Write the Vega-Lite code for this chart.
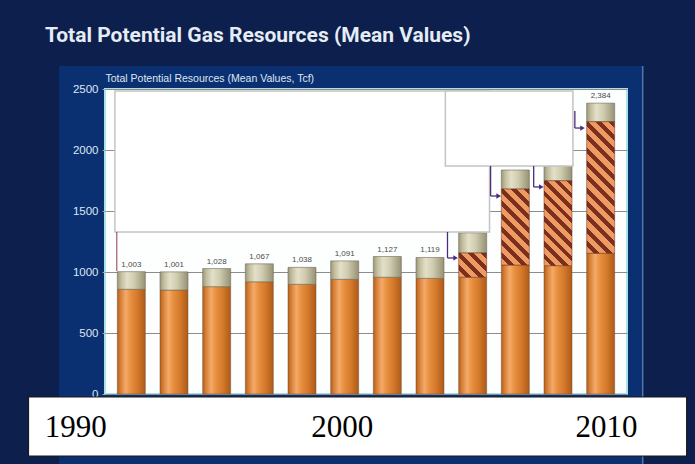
{
  "$schema": "https://vega.github.io/schema/vega-lite/v6.json",
  "autosize": {"type": "none"},
  "width": 522,
  "height": 305,
  "padding": {"left": 105, "top": 89, "right": 68, "bottom": 70},
  "background": "#0a3072",
  "config": {
    "view": {"fill": "#fdfefe", "stroke": "#a9e3e3", "strokeWidth": 2},
    "font": "Liberation Sans"
  },
  "title": {
    "text": "Total Potential Gas Resources (Mean Values)",
    "anchor": "start",
    "frame": "group",
    "dx": -60,
    "offset": -63,
    "baseline": "alphabetic",
    "font": "Roboto",
    "fontSize": 21,
    "fontWeight": "bold",
    "color": "#e6ecf4"
  },
  "datasets": {
    "segments": [
      {"year": 1990, "type": "Traditional", "value": 858}, {"year": 1990, "type": "Shale", "value": 0}, {"year": 1990, "type": "Coalbed", "value": 145},
      {"year": 1992, "type": "Traditional", "value": 852}, {"year": 1992, "type": "Shale", "value": 0}, {"year": 1992, "type": "Coalbed", "value": 149},
      {"year": 1994, "type": "Traditional", "value": 880}, {"year": 1994, "type": "Shale", "value": 0}, {"year": 1994, "type": "Coalbed", "value": 148},
      {"year": 1996, "type": "Traditional", "value": 920}, {"year": 1996, "type": "Shale", "value": 0}, {"year": 1996, "type": "Coalbed", "value": 147},
      {"year": 1998, "type": "Traditional", "value": 899}, {"year": 1998, "type": "Shale", "value": 0}, {"year": 1998, "type": "Coalbed", "value": 139},
      {"year": 2000, "type": "Traditional", "value": 940}, {"year": 2000, "type": "Shale", "value": 0}, {"year": 2000, "type": "Coalbed", "value": 151},
      {"year": 2002, "type": "Traditional", "value": 957}, {"year": 2002, "type": "Shale", "value": 0}, {"year": 2002, "type": "Coalbed", "value": 170},
      {"year": 2004, "type": "Traditional", "value": 948}, {"year": 2004, "type": "Shale", "value": 0}, {"year": 2004, "type": "Coalbed", "value": 171},
      {"year": 2006, "type": "Traditional", "value": 957}, {"year": 2006, "type": "Shale", "value": 199}, {"year": 2006, "type": "Coalbed", "value": 165},
      {"year": 2008, "type": "Traditional", "value": 1057}, {"year": 2008, "type": "Shale", "value": 623}, {"year": 2008, "type": "Coalbed", "value": 156},
      {"year": 2010, "type": "Traditional", "value": 1052}, {"year": 2010, "type": "Shale", "value": 696}, {"year": 2010, "type": "Coalbed", "value": 150},
      {"year": 2012, "type": "Traditional", "value": 1153}, {"year": 2012, "type": "Shale", "value": 1079}, {"year": 2012, "type": "Coalbed", "value": 152}
    ],
    "frame": [
      {"from": 1983, "to": 2017, "low": 2689, "high": 3229},
      {"from": 1983, "to": 1986.61, "low": -660, "high": 2689},
      {"from": 2013.97, "to": 2017, "low": -660, "high": 2689}
    ],
    "edge": [{"x0": 2013.97, "ytop": 2689, "ybot": -660}],
    "covers": [
      {"from": 1989.23, "to": 2006.79, "low": 1328, "high": 2484},
      {"from": 2004.72, "to": 2010.7, "low": 1869, "high": 2484}
    ],
    "arrows": [
      {"x0": 2004.82, "xe": 2005.2, "ytop": 1328, "ybot": 1115},
      {"x0": 2006.84, "xe": 2007.22, "ytop": 1869, "ybot": 1623},
      {"x0": 2008.86, "xe": 2009.22, "ytop": 1869, "ybot": 1697},
      {"x0": 2010.79, "xe": 2011.15, "ytop": 2320, "ybot": 2180}
    ],
    "bracket": [{"x0": 1989.32, "ytop": 1328, "ybot": 1008}],
    "labelbox": [{"from": 1985.18, "to": 2016.03, "low": -508, "high": -24.6}]
  },
  "layer": [
    {
      "data": {"name": "frame"},
      "mark": {"type": "rect", "color": "#0c1f4d", "clip": false},
      "encoding": {
        "x": {"field": "from", "type": "quantitative", "scale": {"domain": [1989, 2013], "nice": false, "zero": false},
              "axis": {"values": [1990, 2000, 2010], "format": "d", "title": null, "domain": false, "ticks": false, "grid": false, "zindex": 1,
                       "labelFont": "Liberation Serif", "labelFontSize": 31, "labelColor": "#000000", "labelBaseline": "alphabetic",
                       "labelPadding": 42, "labelFlush": false, "labelOverlap": false,
                       "labelOffset": {"condition": [{"test": "datum.value == 1990", "value": -56}, {"test": "datum.value == 2010", "value": 48}], "value": -3}}},
        "x2": {"field": "to"},
        "y": {"field": "low", "type": "quantitative", "scale": {"domain": [0, 2500], "nice": false},
              "axis": {"values": [0, 500, 1000, 1500, 2000, 2500], "format": "d", "title": "Total Potential Resources (Mean Values, Tcf)",
                       "titleAngle": 0, "titleAlign": "left", "titleBaseline": "alphabetic", "titleX": 0, "titleY": -8,
                       "titleFont": "Liberation Sans", "titleFontSize": 10.5, "titleFontWeight": "normal", "titleColor": "#dfe6f0",
                       "labelFont": "Liberation Sans", "labelFontSize": 11.5, "labelColor": "#dfe6f0", "labelPadding": 4,
                       "domain": false, "tickSize": 3, "tickColor": "#9aa4b4", "gridColor": "#8c8c8c", "gridWidth": 1}},
        "y2": {"field": "high"}
      }
    },
    {
      "data": {"name": "edge"},
      "mark": {"type": "rule", "color": "#6f9ad0", "strokeWidth": 1.5, "opacity": 0.7, "clip": false},
      "encoding": {
        "x": {"field": "x0", "type": "quantitative", "scale": {"domain": [1989, 2013], "nice": false, "zero": false}},
        "y": {"field": "ytop", "type": "quantitative", "scale": {"domain": [0, 2500], "nice": false}},
        "y2": {"field": "ybot"}
      }
    },
    {
      "data": {"name": "segments"},
      "transform": [
        {"stack": "value", "groupby": ["year"], "sort": [{"field": "type", "order": "descending"}], "as": ["v0", "v1"]},
        {"filter": "datum.type == 'Traditional'"}
      ],
      "mark": {"type": "bar", "size": 28, "clip": false, "stroke": "#7a5030", "strokeWidth": 0.5,
               "fill": {"gradient": "linear", "x1": 0, "y1": 0, "x2": 1, "y2": 0,
                        "stops": [{"offset": 0, "color": "#b35e1c"}, {"offset": 0.12, "color": "#d88036"}, {"offset": 0.3, "color": "#f3aa6a"},
                                  {"offset": 0.48, "color": "#e78f3e"}, {"offset": 0.72, "color": "#d3792b"}, {"offset": 1, "color": "#ad5a19"}]}},
      "encoding": {
        "x": {"field": "year", "type": "quantitative", "scale": {"domain": [1989, 2013], "nice": false, "zero": false}},
        "y": {"field": "v1", "type": "quantitative", "scale": {"domain": [0, 2500], "nice": false}},
        "y2": {"field": "v0"}
      }
    },
    {
      "data": {"name": "segments"},
      "transform": [
        {"stack": "value", "groupby": ["year"], "sort": [{"field": "type", "order": "descending"}], "as": ["v0", "v1"]},
        {"filter": "datum.type == 'Coalbed'"}
      ],
      "mark": {"type": "bar", "size": 28, "clip": false, "stroke": "#6e6a58", "strokeWidth": 0.6,
               "fill": {"gradient": "linear", "x1": 0, "y1": 0, "x2": 1, "y2": 0,
                        "stops": [{"offset": 0, "color": "#9c987c"}, {"offset": 0.15, "color": "#c4c0a0"}, {"offset": 0.35, "color": "#e3e0c8"},
                                  {"offset": 0.6, "color": "#d0ccb0"}, {"offset": 1, "color": "#969276"}]}},
      "encoding": {
        "x": {"field": "year", "type": "quantitative", "scale": {"domain": [1989, 2013], "nice": false, "zero": false}},
        "y": {"field": "v1", "type": "quantitative", "scale": {"domain": [0, 2500], "nice": false}},
        "y2": {"field": "v0"}
      }
    },
    {
      "data": {"name": "segments"},
      "transform": [
        {"stack": "value", "groupby": ["year"], "sort": [{"field": "type", "order": "descending"}], "as": ["v0", "v1"]},
        {"filter": "datum.type == 'Shale' && datum.year == 2006"}
      ],
      "mark": {"type": "bar", "size": 28, "clip": false, "stroke": "#6a2a18", "strokeWidth": 0.5,
               "fill": {"gradient": "linear", "x1": 0, "y1": 1, "x2": 1.0656, "y2": 0.075,
                        "stops": [{"offset": 0, "color": "#ee9a62"}, {"offset": 0.1375, "color": "#ee9a62"}, {"offset": 0.1375, "color": "#7a301c"}, {"offset": 0.25, "color": "#7a301c"},
                                  {"offset": 0.25, "color": "#ee9a62"}, {"offset": 0.3875, "color": "#ee9a62"}, {"offset": 0.3875, "color": "#7a301c"}, {"offset": 0.5, "color": "#7a301c"},
                                  {"offset": 0.5, "color": "#ee9a62"}, {"offset": 0.6375, "color": "#ee9a62"}, {"offset": 0.6375, "color": "#7a301c"}, {"offset": 0.75, "color": "#7a301c"},
                                  {"offset": 0.75, "color": "#ee9a62"}, {"offset": 0.8875, "color": "#ee9a62"}, {"offset": 0.8875, "color": "#7a301c"}, {"offset": 1, "color": "#7a301c"}]}},
      "encoding": {
        "x": {"field": "year", "type": "quantitative", "scale": {"domain": [1989, 2013], "nice": false, "zero": false}},
        "y": {"field": "v1", "type": "quantitative", "scale": {"domain": [0, 2500], "nice": false}},
        "y2": {"field": "v0"}
      }
    },
    {
      "data": {"name": "segments"},
      "transform": [
        {"stack": "value", "groupby": ["year"], "sort": [{"field": "type", "order": "descending"}], "as": ["v0", "v1"]},
        {"filter": "datum.type == 'Shale' && datum.year == 2008"}
      ],
      "mark": {"type": "bar", "size": 28, "clip": false, "stroke": "#6a2a18", "strokeWidth": 0.5,
               "fill": {"gradient": "linear", "x1": 0, "y1": 1, "x2": 0.444, "y2": -0.205,
                        "stops": [{"offset": 0, "color": "#ee9a62"}, {"offset": 0.06875, "color": "#ee9a62"}, {"offset": 0.06875, "color": "#7a301c"}, {"offset": 0.125, "color": "#7a301c"},
                                  {"offset": 0.125, "color": "#ee9a62"}, {"offset": 0.19375, "color": "#ee9a62"}, {"offset": 0.19375, "color": "#7a301c"}, {"offset": 0.25, "color": "#7a301c"},
                                  {"offset": 0.25, "color": "#ee9a62"}, {"offset": 0.31875, "color": "#ee9a62"}, {"offset": 0.31875, "color": "#7a301c"}, {"offset": 0.375, "color": "#7a301c"},
                                  {"offset": 0.375, "color": "#ee9a62"}, {"offset": 0.44375, "color": "#ee9a62"}, {"offset": 0.44375, "color": "#7a301c"}, {"offset": 0.5, "color": "#7a301c"},
                                  {"offset": 0.5, "color": "#ee9a62"}, {"offset": 0.56875, "color": "#ee9a62"}, {"offset": 0.56875, "color": "#7a301c"}, {"offset": 0.625, "color": "#7a301c"},
                                  {"offset": 0.625, "color": "#ee9a62"}, {"offset": 0.69375, "color": "#ee9a62"}, {"offset": 0.69375, "color": "#7a301c"}, {"offset": 0.75, "color": "#7a301c"},
                                  {"offset": 0.75, "color": "#ee9a62"}, {"offset": 0.81875, "color": "#ee9a62"}, {"offset": 0.81875, "color": "#7a301c"}, {"offset": 0.875, "color": "#7a301c"},
                                  {"offset": 0.875, "color": "#ee9a62"}, {"offset": 0.94375, "color": "#ee9a62"}, {"offset": 0.94375, "color": "#7a301c"}, {"offset": 1, "color": "#7a301c"}]}},
      "encoding": {
        "x": {"field": "year", "type": "quantitative", "scale": {"domain": [1989, 2013], "nice": false, "zero": false}},
        "y": {"field": "v1", "type": "quantitative", "scale": {"domain": [0, 2500], "nice": false}},
        "y2": {"field": "v0"}
      }
    },
    {
      "data": {"name": "segments"},
      "transform": [
        {"stack": "value", "groupby": ["year"], "sort": [{"field": "type", "order": "descending"}], "as": ["v0", "v1"]},
        {"filter": "datum.type == 'Shale' && datum.year == 2010"}
      ],
      "mark": {"type": "bar", "size": 28, "clip": false, "stroke": "#6a2a18", "strokeWidth": 0.5,
               "fill": {"gradient": "linear", "x1": 0, "y1": 1, "x2": 0.3957, "y2": -0.2,
                        "stops": [{"offset": 0, "color": "#ee9a62"}, {"offset": 0.0611, "color": "#ee9a62"}, {"offset": 0.0611, "color": "#7a301c"}, {"offset": 0.1111, "color": "#7a301c"},
                                  {"offset": 0.1111, "color": "#ee9a62"}, {"offset": 0.1722, "color": "#ee9a62"}, {"offset": 0.1722, "color": "#7a301c"}, {"offset": 0.2222, "color": "#7a301c"},
                                  {"offset": 0.2222, "color": "#ee9a62"}, {"offset": 0.2833, "color": "#ee9a62"}, {"offset": 0.2833, "color": "#7a301c"}, {"offset": 0.3333, "color": "#7a301c"},
                                  {"offset": 0.3333, "color": "#ee9a62"}, {"offset": 0.3944, "color": "#ee9a62"}, {"offset": 0.3944, "color": "#7a301c"}, {"offset": 0.4444, "color": "#7a301c"},
                                  {"offset": 0.4444, "color": "#ee9a62"}, {"offset": 0.5056, "color": "#ee9a62"}, {"offset": 0.5056, "color": "#7a301c"}, {"offset": 0.5556, "color": "#7a301c"},
                                  {"offset": 0.5556, "color": "#ee9a62"}, {"offset": 0.6167, "color": "#ee9a62"}, {"offset": 0.6167, "color": "#7a301c"}, {"offset": 0.6667, "color": "#7a301c"},
                                  {"offset": 0.6667, "color": "#ee9a62"}, {"offset": 0.7278, "color": "#ee9a62"}, {"offset": 0.7278, "color": "#7a301c"}, {"offset": 0.7778, "color": "#7a301c"},
                                  {"offset": 0.7778, "color": "#ee9a62"}, {"offset": 0.8389, "color": "#ee9a62"}, {"offset": 0.8389, "color": "#7a301c"}, {"offset": 0.8889, "color": "#7a301c"},
                                  {"offset": 0.8889, "color": "#ee9a62"}, {"offset": 0.95, "color": "#ee9a62"}, {"offset": 0.95, "color": "#7a301c"}, {"offset": 1, "color": "#7a301c"}]}},
      "encoding": {
        "x": {"field": "year", "type": "quantitative", "scale": {"domain": [1989, 2013], "nice": false, "zero": false}},
        "y": {"field": "v1", "type": "quantitative", "scale": {"domain": [0, 2500], "nice": false}},
        "y2": {"field": "v0"}
      }
    },
    {
      "data": {"name": "segments"},
      "transform": [
        {"stack": "value", "groupby": ["year"], "sort": [{"field": "type", "order": "descending"}], "as": ["v0", "v1"]},
        {"filter": "datum.type == 'Shale' && datum.year == 2012"}
      ],
      "mark": {"type": "bar", "size": 28, "clip": false, "stroke": "#6a2a18", "strokeWidth": 0.5,
               "fill": {"gradient": "linear", "x1": 0, "y1": 1, "x2": 0.2469, "y2": -0.16,
                        "stops": [{"offset": 0, "color": "#ee9a62"}, {"offset": 0.0458, "color": "#ee9a62"}, {"offset": 0.0458, "color": "#7a301c"}, {"offset": 0.0833, "color": "#7a301c"},
                                  {"offset": 0.0833, "color": "#ee9a62"}, {"offset": 0.1292, "color": "#ee9a62"}, {"offset": 0.1292, "color": "#7a301c"}, {"offset": 0.1667, "color": "#7a301c"},
                                  {"offset": 0.1667, "color": "#ee9a62"}, {"offset": 0.2125, "color": "#ee9a62"}, {"offset": 0.2125, "color": "#7a301c"}, {"offset": 0.25, "color": "#7a301c"},
                                  {"offset": 0.25, "color": "#ee9a62"}, {"offset": 0.2958, "color": "#ee9a62"}, {"offset": 0.2958, "color": "#7a301c"}, {"offset": 0.3333, "color": "#7a301c"},
                                  {"offset": 0.3333, "color": "#ee9a62"}, {"offset": 0.3792, "color": "#ee9a62"}, {"offset": 0.3792, "color": "#7a301c"}, {"offset": 0.4167, "color": "#7a301c"},
                                  {"offset": 0.4167, "color": "#ee9a62"}, {"offset": 0.4625, "color": "#ee9a62"}, {"offset": 0.4625, "color": "#7a301c"}, {"offset": 0.5, "color": "#7a301c"},
                                  {"offset": 0.5, "color": "#ee9a62"}, {"offset": 0.5458, "color": "#ee9a62"}, {"offset": 0.5458, "color": "#7a301c"}, {"offset": 0.5833, "color": "#7a301c"},
                                  {"offset": 0.5833, "color": "#ee9a62"}, {"offset": 0.6292, "color": "#ee9a62"}, {"offset": 0.6292, "color": "#7a301c"}, {"offset": 0.6667, "color": "#7a301c"},
                                  {"offset": 0.6667, "color": "#ee9a62"}, {"offset": 0.7125, "color": "#ee9a62"}, {"offset": 0.7125, "color": "#7a301c"}, {"offset": 0.75, "color": "#7a301c"},
                                  {"offset": 0.75, "color": "#ee9a62"}, {"offset": 0.7958, "color": "#ee9a62"}, {"offset": 0.7958, "color": "#7a301c"}, {"offset": 0.8333, "color": "#7a301c"},
                                  {"offset": 0.8333, "color": "#ee9a62"}, {"offset": 0.8792, "color": "#ee9a62"}, {"offset": 0.8792, "color": "#7a301c"}, {"offset": 0.9167, "color": "#7a301c"},
                                  {"offset": 0.9167, "color": "#ee9a62"}, {"offset": 0.9625, "color": "#ee9a62"}, {"offset": 0.9625, "color": "#7a301c"}, {"offset": 1, "color": "#7a301c"}]}},
      "encoding": {
        "x": {"field": "year", "type": "quantitative", "scale": {"domain": [1989, 2013], "nice": false, "zero": false}},
        "y": {"field": "v1", "type": "quantitative", "scale": {"domain": [0, 2500], "nice": false}},
        "y2": {"field": "v0"}
      }
    },
    {
      "data": {"name": "segments"},
      "transform": [
        {"aggregate": [{"op": "sum", "field": "value", "as": "total"}], "groupby": ["year"]}
      ],
      "mark": {"type": "text", "baseline": "bottom", "dy": -3, "fontSize": 8, "color": "#4a4a4a", "clip": false},
      "encoding": {
        "x": {"field": "year", "type": "quantitative", "scale": {"domain": [1989, 2013], "nice": false, "zero": false}},
        "y": {"field": "total", "type": "quantitative", "scale": {"domain": [0, 2500], "nice": false}},
        "text": {"field": "total", "type": "quantitative", "format": ",d"}
      }
    },
    {
      "data": {"name": "covers"},
      "mark": {"type": "rect", "color": "#ffffff", "stroke": "#c4c4c4", "strokeWidth": 1.5, "clip": false},
      "encoding": {
        "x": {"field": "from", "type": "quantitative", "scale": {"domain": [1989, 2013], "nice": false, "zero": false}},
        "x2": {"field": "to"},
        "y": {"field": "low", "type": "quantitative", "scale": {"domain": [0, 2500], "nice": false}},
        "y2": {"field": "high"}
      }
    },
    {
      "data": {"name": "arrows"},
      "mark": {"type": "rule", "color": "#4e2a7e", "strokeWidth": 1.3, "clip": false},
      "encoding": {
        "x": {"field": "x0", "type": "quantitative", "scale": {"domain": [1989, 2013], "nice": false, "zero": false}},
        "y": {"field": "ytop", "type": "quantitative", "scale": {"domain": [0, 2500], "nice": false}},
        "y2": {"field": "ybot"}
      }
    },
    {
      "data": {"name": "arrows"},
      "mark": {"type": "rule", "color": "#4e2a7e", "strokeWidth": 1.3, "clip": false},
      "encoding": {
        "x": {"field": "x0", "type": "quantitative", "scale": {"domain": [1989, 2013], "nice": false, "zero": false}},
        "x2": {"field": "xe"},
        "y": {"field": "ybot", "type": "quantitative", "scale": {"domain": [0, 2500], "nice": false}}
      }
    },
    {
      "data": {"name": "arrows"},
      "mark": {"type": "point", "shape": "triangle-right", "filled": true, "size": 28, "color": "#4e2a7e", "opacity": 1, "clip": false},
      "encoding": {
        "x": {"field": "xe", "type": "quantitative", "scale": {"domain": [1989, 2013], "nice": false, "zero": false}},
        "y": {"field": "ybot", "type": "quantitative", "scale": {"domain": [0, 2500], "nice": false}}
      }
    },
    {
      "data": {"name": "bracket"},
      "mark": {"type": "rule", "color": "#8a3a4e", "strokeWidth": 1, "clip": false},
      "encoding": {
        "x": {"field": "x0", "type": "quantitative", "scale": {"domain": [1989, 2013], "nice": false, "zero": false}},
        "y": {"field": "ytop", "type": "quantitative", "scale": {"domain": [0, 2500], "nice": false}},
        "y2": {"field": "ybot"}
      }
    },
    {
      "data": {"name": "labelbox"},
      "mark": {"type": "rect", "color": "#ffffff", "stroke": "#1a1a1a", "strokeWidth": 1.2, "clip": false},
      "encoding": {
        "x": {"field": "from", "type": "quantitative", "scale": {"domain": [1989, 2013], "nice": false, "zero": false}},
        "x2": {"field": "to"},
        "y": {"field": "low", "type": "quantitative", "scale": {"domain": [0, 2500], "nice": false}},
        "y2": {"field": "high"}
      }
    }
  ]
}
